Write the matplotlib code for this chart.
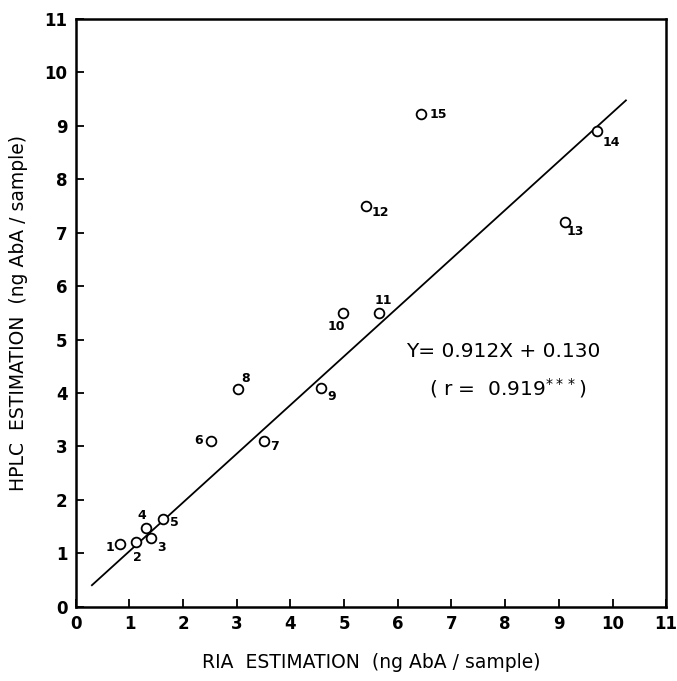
import numpy as np
import matplotlib
matplotlib.use('Agg')
from matplotlib import pyplot as plt

# sample numbers and their estimates (ng AbA / sample)
sample_ids = ['1', '2', '3', '4', '5', '6', '7', '8', '9', '10', '11', '12', '13', '14', '15']
ria = [0.83, 1.12, 1.41, 1.30, 1.62, 2.51, 3.50, 3.02, 4.57, 4.98, 5.64, 5.41, 9.11, 9.72, 6.44]
hplc = [1.18, 1.21, 1.29, 1.47, 1.65, 3.11, 3.10, 4.08, 4.10, 5.50, 5.50, 7.51, 7.20, 8.90, 9.23]

# regression line
slope = 0.912
intercept = 0.130
r_value = 0.919
line_range = [0.30, 10.25]

ticks = list(range(0, 12))

# label offsets in pixels (dx right, dy up)
label_offsets = [(-10, -4), (1, -15), (10, -10), (-4, 13), (12, -4),
                 (-12, 0), (11, -5), (8, 10), (11, -9), (-7, -14),
                 (5, 12), (14, -7), (11, -9), (14, -11), (17, -1)]

fig = plt.figure(figsize=(6.77, 6.81), dpi=100)
ax = fig.add_axes([0.112, 0.109, 0.872, 0.863])

xs = np.array(line_range)
ax.plot(xs, slope * xs + intercept, color='black', lw=1.3)
ax.plot(ria, hplc, 'o', mfc='white', mec='black', ms=7, mew=1.3, zorder=3)

pt = 0.72  # points per pixel at 100 dpi
for sid, x, y, (dx, dy) in zip(sample_ids, ria, hplc, label_offsets):
    ax.annotate(sid, (x, y), xytext=(dx * pt, dy * pt), textcoords='offset points',
                ha='center', va='center', fontsize=9, fontweight='bold',
                family='Liberation Sans Narrow')

ax.text(7.96, 4.78, 'Y= 0.912X + 0.130', ha='center', va='center',
        fontsize=14.5, family='DejaVu Sans', color='black')
ax.text(8.05, 4.10, '( r =  %.3f$^{***}$)' % r_value, ha='center', va='center',
        fontsize=14.5, family='DejaVu Sans', color='black')

ax.set_xlim(0, 11)
ax.set_ylim(0, 11)
ax.set_xticks(ticks)
ax.set_yticks(ticks)
ax.tick_params(direction='in', length=6, width=1.3, top=False, right=False, pad=6)
for lab in ax.get_xticklabels() + ax.get_yticklabels():
    lab.set_fontfamily('Liberation Sans Narrow')
    lab.set_fontweight('bold')
    lab.set_fontsize(12)
for s in ax.spines.values():
    s.set_linewidth(1.8)

ax.set_xlabel('RIA  ESTIMATION  (ng AbA / sample)', fontsize=13.5, labelpad=14,
              family='DejaVu Sans', color='black')
ax.set_ylabel('HPLC  ESTIMATION  (ng AbA / sample)', fontsize=13.5, labelpad=12,
              family='DejaVu Sans', color='black')

fig.savefig('out.png', dpi=100)
